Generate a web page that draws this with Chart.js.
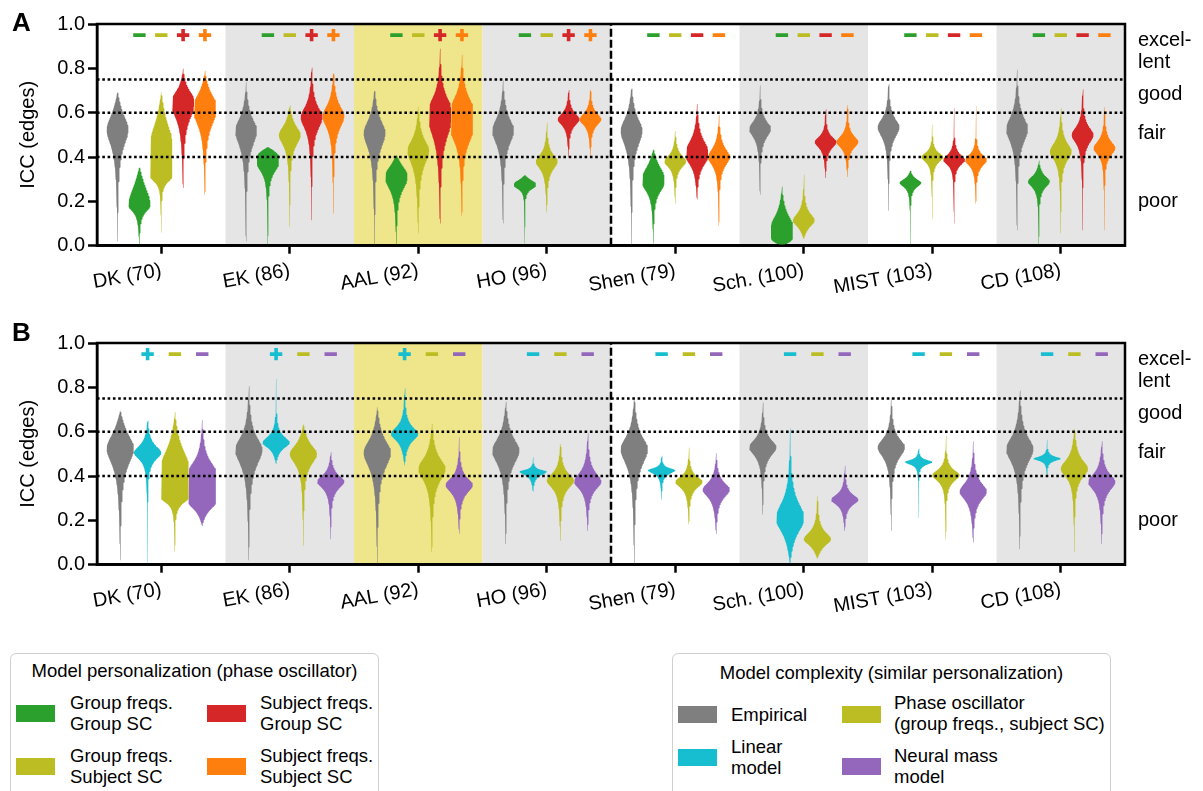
<!DOCTYPE html>
<html>
<head>
<meta charset="utf-8">
<script src="https://cdn.jsdelivr.net/npm/chart.js@4.4.1/dist/chart.umd.min.js"></script>
<style>
  html, body { margin: 0; padding: 0; background: #fff; }
  body { width: 1203px; height: 791px; overflow: hidden; position: relative; font-family: "Liberation Sans", Arial, sans-serif; color: #000; }
  .cw { position: absolute; left: 0; width: 1203px; height: 319px; }
  .plabel { position: absolute; left: 12px; font-weight: bold; font-size: 26px; line-height: 26px; }
  .lbox { position: absolute; border: 1.5px solid #cfcfcf; border-radius: 6px; background: #fff; }
  .ltitle { position: absolute; text-align: center; font-size: 18.5px; line-height: 21px; white-space: nowrap; }
  .ltext { position: absolute; font-size: 18.5px; line-height: 21px; white-space: nowrap; }
  .sw { position: absolute; width: 39px; height: 17px; }
</style>
</head>
<body>
<div class="cw" style="top:0"><canvas id="cA" width="1203" height="319"></canvas></div>
<div class="cw" style="top:319px"><canvas id="cB" width="1203" height="319"></canvas></div>
<div class="plabel" style="top:9px">A</div>
<div class="plabel" style="top:319px">B</div>

<div class="lbox" style="left:10px;top:653px;width:367px;height:160px"></div>
<div class="ltitle" style="left:10px;width:369px;top:660px">Model personalization (phase oscillator)</div>
<div class="sw" style="left:16px;top:705px;background:#2ca02c"></div>
<div class="ltext" style="left:70px;top:692px">Group freqs.<br>Group SC</div>
<div class="sw" style="left:207px;top:705px;background:#d62728"></div>
<div class="ltext" style="left:260px;top:692px">Subject freqs.<br>Group SC</div>
<div class="sw" style="left:16px;top:758px;background:#bcbd22"></div>
<div class="ltext" style="left:70px;top:745px">Group freqs.<br>Subject SC</div>
<div class="sw" style="left:207px;top:758px;background:#ff7f0e"></div>
<div class="ltext" style="left:260px;top:745px">Subject freqs.<br>Subject SC</div>

<div class="lbox" style="left:672px;top:653px;width:437px;height:160px"></div>
<div class="ltitle" style="left:672px;width:439px;top:662px">Model complexity (similar personalization)</div>
<div class="sw" style="left:678px;top:706px;background:#7f7f7f"></div>
<div class="ltext" style="left:731px;top:704px">Empirical</div>
<div class="sw" style="left:678px;top:749px;background:#17becf"></div>
<div class="ltext" style="left:731px;top:736px">Linear<br>model</div>
<div class="sw" style="left:842px;top:706px;background:#bcbd22"></div>
<div class="ltext" style="left:894px;top:692px">Phase oscillator<br>(group freqs., subject SC)</div>
<div class="sw" style="left:842px;top:758px;background:#9467bd"></div>
<div class="ltext" style="left:894px;top:745px">Neural mass<br>model</div>

<script>
// ---------------- data ----------------
const categories = ['DK (70)', 'EK (86)', 'AAL (92)', 'HO (96)', 'Shen (79)', 'Sch. (100)', 'MIST (103)', 'CD (108)'];
const bandColors = ['#ffffff', '#e5e5e5', '#efe58b', '#e5e5e5', '#ffffff', '#e5e5e5', '#ffffff', '#e5e5e5'];
const yTicks = [0, 0.2, 0.4, 0.6, 0.8, 1.0];
const thresholds = [0.4, 0.6, 0.75];
const qualityLabels = [['excel-', 'lent'], 'good', 'fair', 'poor'];
const qualityPos = [0.878, 0.682, 0.505, 0.2];
const separatorAt = 3.5;
const markerY = 0.95;

// violin: [low end, mode start, mode end, high end, half-width spread below, spread above]
// Panel A
const A_empirical = [
  [0.02, 0.525, 0.525, 0.70, 0.095, 0.08], [0.02, 0.52, 0.52, 0.74, 0.09, 0.07],
  [0.00, 0.51, 0.51, 0.72, 0.09, 0.07], [0.10, 0.52, 0.52, 0.75, 0.08, 0.07],
  [0.00, 0.52, 0.52, 0.73, 0.09, 0.07], [0.23, 0.527, 0.527, 0.73, 0.05, 0.045],
  [0.158, 0.535, 0.535, 0.786, 0.06, 0.05], [0.07, 0.527, 0.527, 0.80, 0.08, 0.07]
];
const A_grpFreq_grpSC = [
  [0.00, 0.18, 0.19, 0.36, 0.035, 0.09], [0.00, 0.37, 0.40, 0.445, 0.05, 0.04],
  [0.00, 0.30, 0.32, 0.41, 0.06, 0.05], [0.00, 0.27, 0.28, 0.32, 0.02, 0.02],
  [0.01, 0.28, 0.31, 0.44, 0.05, 0.06], [0.00, 0.04, 0.09, 0.27, 0.05, 0.06],
  [0.00, 0.284, 0.284, 0.343, 0.025, 0.02], [0.00, 0.29, 0.29, 0.387, 0.035, 0.03]
];
const A_grpFreq_subjSC = [
  [0.06, 0.31, 0.47, 0.70, 0.03, 0.10], [0.085, 0.50, 0.50, 0.64, 0.06, 0.05],
  [0.055, 0.43, 0.43, 0.645, 0.08, 0.06], [0.15, 0.38, 0.38, 0.586, 0.045, 0.04],
  [0.19, 0.38, 0.38, 0.535, 0.035, 0.035], [0.03, 0.114, 0.114, 0.38, 0.035, 0.04],
  [0.12, 0.40, 0.40, 0.616, 0.03, 0.025], [0.055, 0.424, 0.424, 0.645, 0.05, 0.05]
];
const A_subjFreq_grpSC = [
  [0.26, 0.63, 0.66, 0.80, 0.08, 0.05], [0.115, 0.58, 0.58, 0.85, 0.07, 0.06],
  [0.10, 0.56, 0.62, 0.90, 0.10, 0.07], [0.40, 0.57, 0.57, 0.73, 0.035, 0.035],
  [0.21, 0.40, 0.43, 0.645, 0.05, 0.06], [0.305, 0.468, 0.468, 0.77, 0.035, 0.03],
  [0.10, 0.387, 0.387, 0.675, 0.03, 0.03], [0.07, 0.50, 0.50, 0.82, 0.05, 0.045]
];
const A_subjFreq_subjSC = [
  [0.23, 0.60, 0.64, 0.79, 0.08, 0.06], [0.145, 0.585, 0.585, 0.81, 0.07, 0.06],
  [0.135, 0.52, 0.62, 0.867, 0.08, 0.07], [0.40, 0.57, 0.57, 0.74, 0.035, 0.035],
  [0.09, 0.40, 0.40, 0.594, 0.05, 0.05], [0.31, 0.468, 0.468, 0.81, 0.035, 0.035],
  [0.19, 0.387, 0.387, 0.66, 0.035, 0.03], [0.07, 0.44, 0.44, 0.756, 0.04, 0.04]
];
const A_sig_grpFreq_grpSC = ['-', '-', '-', '-', '-', '-', '-', '-'];
const A_sig_grpFreq_subjSC = ['-', '-', '-', '-', '-', '-', '-', '-'];
const A_sig_subjFreq_grpSC = ['+', '+', '+', '+', '-', '-', '-', '-'];
const A_sig_subjFreq_subjSC = ['+', '+', '+', '+', '-', '-', '-', '-'];

// Panel B
const B_empirical = [
  [0.02, 0.525, 0.525, 0.70, 0.095, 0.08], [0.02, 0.52, 0.52, 0.83, 0.09, 0.07],
  [0.00, 0.507, 0.507, 0.72, 0.09, 0.07], [0.093, 0.515, 0.515, 0.744, 0.08, 0.07],
  [0.00, 0.522, 0.522, 0.774, 0.09, 0.07], [0.226, 0.53, 0.53, 0.75, 0.05, 0.045],
  [0.152, 0.53, 0.53, 0.79, 0.06, 0.05], [0.07, 0.522, 0.522, 0.803, 0.08, 0.07]
];
const B_linear = [
  [0.00, 0.505, 0.505, 0.67, 0.04, 0.04], [0.455, 0.55, 0.55, 0.89, 0.03, 0.035],
  [0.448, 0.59, 0.59, 0.90, 0.04, 0.04], [0.33, 0.42, 0.42, 0.49, 0.02, 0.01],
  [0.294, 0.426, 0.426, 0.559, 0.02, 0.012], [0.005, 0.20, 0.22, 0.633, 0.07, 0.08],
  [0.21, 0.463, 0.463, 0.552, 0.015, 0.012], [0.404, 0.478, 0.478, 0.574, 0.012, 0.012]
];
const B_phaseOsc = [
  [0.06, 0.30, 0.45, 0.69, 0.03, 0.09], [0.085, 0.50, 0.50, 0.64, 0.06, 0.05],
  [0.056, 0.433, 0.433, 0.64, 0.07, 0.06], [0.108, 0.38, 0.38, 0.58, 0.045, 0.04],
  [0.183, 0.374, 0.374, 0.537, 0.035, 0.03], [0.027, 0.115, 0.115, 0.38, 0.035, 0.04],
  [0.115, 0.404, 0.404, 0.596, 0.035, 0.03], [0.056, 0.433, 0.433, 0.64, 0.05, 0.05]
];
const B_neuralMass = [
  [0.175, 0.28, 0.42, 0.67, 0.04, 0.06], [0.115, 0.375, 0.375, 0.52, 0.04, 0.035],
  [0.14, 0.36, 0.36, 0.61, 0.045, 0.04], [0.152, 0.375, 0.375, 0.626, 0.045, 0.05],
  [0.139, 0.339, 0.339, 0.516, 0.045, 0.04], [0.152, 0.293, 0.293, 0.485, 0.03, 0.03],
  [0.10, 0.33, 0.33, 0.58, 0.05, 0.05], [0.093, 0.374, 0.374, 0.58, 0.05, 0.045]
];
const B_sig_linear = ['+', '+', '+', '-', '-', '-', '-', '-'];
const B_sig_phaseOsc = ['-', '-', '-', '-', '-', '-', '-', '-'];
const B_sig_neuralMass = ['-', '-', '-', '-', '-', '-', '-', '-'];

// ---------------- styles ----------------
const FONT = '"Liberation Sans", Arial, sans-serif';
const COL = { gray: '#7f7f7f', green: '#2ca02c', olive: '#bcbd22', red: '#d62728', orange: '#ff7f0e', cyan: '#17becf', purple: '#9467bd' };

const seriesA = [
  { vals: A_empirical, color: COL.gray, signs: null },
  { vals: A_grpFreq_grpSC, color: COL.green, signs: A_sig_grpFreq_grpSC },
  { vals: A_grpFreq_subjSC, color: COL.olive, signs: A_sig_grpFreq_subjSC },
  { vals: A_subjFreq_grpSC, color: COL.red, signs: A_sig_subjFreq_grpSC },
  { vals: A_subjFreq_subjSC, color: COL.orange, signs: A_sig_subjFreq_subjSC }
];
const seriesB = [
  { vals: B_empirical, color: COL.gray, signs: null },
  { vals: B_linear, color: COL.cyan, signs: B_sig_linear },
  { vals: B_phaseOsc, color: COL.olive, signs: B_sig_phaseOsc },
  { vals: B_neuralMass, color: COL.purple, signs: B_sig_neuralMass }
];

// violin outline in data units (value axis = y, category axis = x)
function violinOutline(v, cx, hw) {
  const [lo, a, b, hi, sd, su] = v;
  const N = 180;
  const right = [];
  for (let j = 0; j <= N; j++) {
    const y = lo + (hi - lo) * j / N;
    let w = 1;
    if (y < a) {
      const d = a - y, D = a - lo;
      w = (1 - Math.pow(d / D, 4)) / (1 + (d / sd) * (d / sd));
    } else if (y > b) {
      const d = y - b, D = hi - b;
      w = (1 - Math.pow(d / D, 4)) / (1 + (d / su) * (d / su));
    }
    right.push({ x: cx + hw * Math.max(w, 0), y: y });
  }
  const left = right.slice().reverse().map(p => ({ x: 2 * cx - p.x, y: p.y }));
  return right.concat(left);
}

const bandPlugin = {
  id: 'bands',
  beforeDraw(chart) {
    const { ctx, chartArea } = chart;
    const xs = chart.scales.x;
    ctx.save();
    bandColors.forEach((c, i) => {
      const x0 = xs.getPixelForValue(i - 0.5), x1 = xs.getPixelForValue(i + 0.5);
      ctx.fillStyle = c;
      ctx.fillRect(x0, chartArea.top, x1 - x0, chartArea.bottom - chartArea.top);
    });
    ctx.restore();
  }
};
const framePlugin = {
  id: 'frame',
  afterDatasetsDraw(chart) {
    const { ctx, chartArea: a } = chart;
    ctx.save();
    ctx.strokeStyle = '#000';
    ctx.lineWidth = 2.5;
    ctx.strokeRect(a.left, a.top, a.right - a.left, a.bottom - a.top);
    ctx.restore();
  }
};

function buildPanel(id, series, step) {
  const ds = [];
  thresholds.forEach(t => ds.push({
    data: [{ x: -0.5, y: t }, { x: categories.length - 0.5, y: t }],
    showLine: true, borderColor: '#000', borderWidth: 2.6, borderDash: [2.6, 2.7],
    pointRadius: 0, order: 0
  }));
  ds.push({
    data: [{ x: separatorAt, y: 0 }, { x: separatorAt, y: 1 }],
    showLine: true, borderColor: '#000', borderWidth: 2.5, borderDash: [8, 3],
    pointRadius: 0, order: 0
  });
  series.forEach((s, k) => {
    const off = (k - (series.length - 1) / 2) * step;
    if (s.signs) {
      ds.push({
        data: categories.map((c, i) => ({ x: i + off, y: markerY })),
        pointStyle: s.signs.map(g => g === '+' ? 'cross' : 'line'),
        pointRadius: 6.2, pointBorderWidth: 3.6,
        pointBorderColor: s.color, pointBackgroundColor: s.color, order: 0
      });
    }
    s.vals.forEach((v, i) => ds.push({
      data: violinOutline(v, i + off, step / 2),
      showLine: true, fill: 'shape', backgroundColor: s.color, borderColor: s.color,
      borderWidth: 0, pointRadius: 0, tension: 0, order: 1
    }));
  });

  const tickFont = { family: FONT, size: 20 };
  new Chart(document.getElementById(id), {
    type: 'scatter',
    data: { datasets: ds },
    options: {
      responsive: false, animation: false, devicePixelRatio: 1, events: [],
      layout: { padding: { top: 20, left: 0, right: 0, bottom: 0 } },
      plugins: { legend: { display: false }, tooltip: { enabled: false } },
      scales: {
        x: {
          type: 'linear', position: 'bottom', min: -0.5, max: categories.length - 0.5,
          afterBuildTicks: sc => { sc.ticks = categories.map((c, i) => ({ value: i })); },
          afterFit: sc => { sc.height = 73.3; },
          ticks: { callback: v => categories[v], autoSkip: false, minRotation: 10, maxRotation: 10, padding: 5, color: '#000', font: tickFont },
          grid: { drawOnChartArea: false, tickLength: 8, tickWidth: 2.5, tickColor: '#000' },
          border: { display: true, color: '#000', width: 2.5 }
        },
        y: {
          type: 'linear', position: 'left', min: 0, max: 1,
          afterBuildTicks: sc => { sc.ticks = yTicks.map(v => ({ value: v })); },
          afterFit: sc => { sc.width = 97; },
          ticks: { callback: v => v.toFixed(1), padding: 3, color: '#000', font: tickFont },
          grid: { drawOnChartArea: false, tickLength: 9, tickWidth: 2.5, tickColor: '#000' },
          border: { display: true, color: '#000', width: 2.5 },
          title: { display: true, text: 'ICC (edges)', color: '#000', font: tickFont, padding: { top: 16, bottom: 0 } }
        },
        yq: {
          type: 'linear', position: 'right', min: 0, max: 1,
          afterBuildTicks: sc => { sc.ticks = qualityPos.map(v => ({ value: v })); },
          afterFit: sc => { sc.width = 78; },
          ticks: { callback: (v, i) => qualityLabels[i], padding: 13, color: '#000', font: { family: FONT, size: 20, lineHeight: 1.1 } },
          grid: { display: false, drawTicks: false },
          border: { display: false }
        }
      }
    },
    plugins: [bandPlugin, framePlugin]
  });
}

buildPanel('cA', seriesA, 0.17);
buildPanel('cB', seriesB, 0.2125);
</script>
</body>
</html>
